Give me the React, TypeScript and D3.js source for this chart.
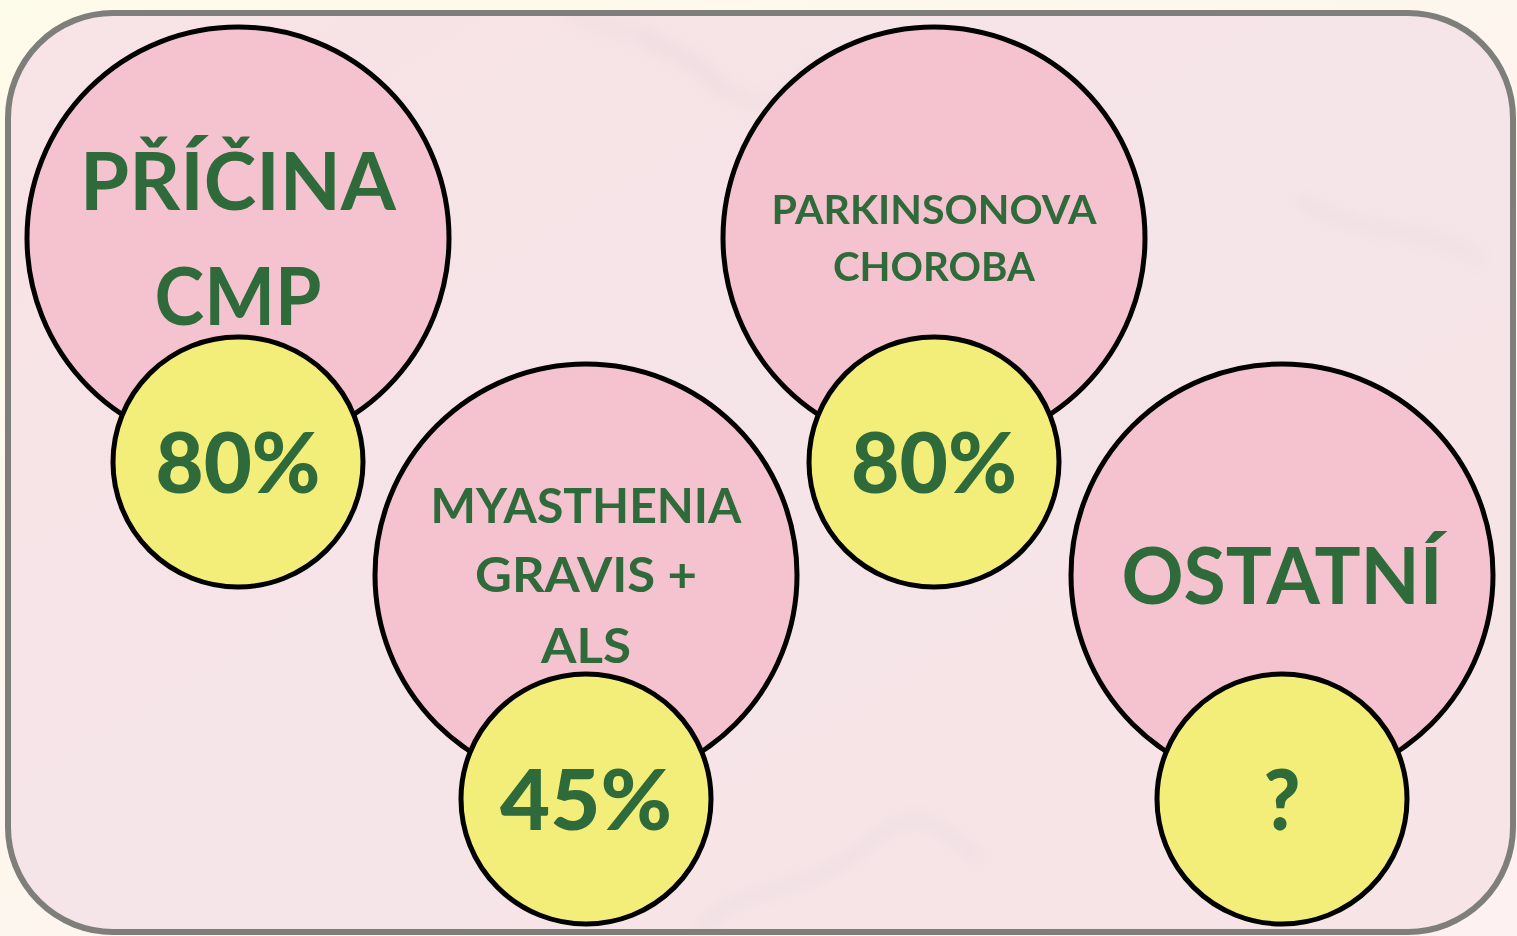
import React from 'react';
import * as d3 from 'd3';

// chart content
const categories = ['PŘÍČINA CMP', 'MYASTHENIA GRAVIS + ALS', 'PARKINSONOVA CHOROBA', 'OSTATNÍ'];
const labelLines = [['PŘÍČINA', 'CMP'], ['MYASTHENIA', 'GRAVIS +', 'ALS'], ['PARKINSONOVA', 'CHOROBA'], ['OSTATNÍ']];
const values = ['80%', '45%', '80%', '?'];
const rows = ['top', 'bottom', 'top', 'bottom'];

// layout per bubble (font size, baseline offsets from centre, fitted widths)
const labelFont = [80, 48, 40, 78];
const labelOffsets = [[-28, 87], [-52, 17, 88], [-14, 43], [29]];
const labelWidths = [[316, 167], [311, 222, 90], [325, 202], [321]];
const valueWidths = [165, 172, 166, 37];

const W = 1517;
const H = 936;
const GREEN = '#2f6a3a';

const App = () => {
  const x = d3.scalePoint<string>().domain(categories).range([238, 1282]);
  const y = d3.scaleOrdinal<string, number>().domain(['top', 'bottom']).range([238, 575]);
  const bigR = 211;
  const smallR = 125;
  const smallDy = 224;

  const frame = d3.path();
  const r = 105, x0 = 8, y0 = 13, x1 = 1513, y1 = 932;
  frame.moveTo(x0 + r, y0);
  frame.lineTo(x1 - r, y0);
  frame.arcTo(x1, y0, x1, y0 + r, r);
  frame.lineTo(x1, y1 - r);
  frame.arcTo(x1, y1, x1 - r, y1, r);
  frame.lineTo(x0 + r, y1);
  frame.arcTo(x0, y1, x0, y1 - r, r);
  frame.lineTo(x0, y0 + r);
  frame.arcTo(x0, y0, x0 + r, y0, r);
  frame.closePath();

  // faint marble veins
  const veins = [
    'M560,0 C600,40 640,20 700,70 S780,110 820,60',
    'M640,30 C660,60 700,50 720,90',
    'M700,930 C740,880 800,900 860,850 S930,820 980,860',
    'M1300,200 C1360,240 1420,220 1480,260',
  ];

  return (
    <div style={{ position: 'fixed', left: 0, top: 0, width: W, height: H }}>
      <svg width={W} height={H} style={{ display: 'block' }}>
        <defs>
          <linearGradient id="outer" x1="0" y1="0" x2="1" y2="1">
            <stop offset="0" stopColor="#fdfbea" />
            <stop offset="1" stopColor="#fdf1f2" />
          </linearGradient>
          <linearGradient id="inner" x1="0" y1="0" x2="1" y2="1">
            <stop offset="0" stopColor="#f8e3e5" />
            <stop offset="0.5" stopColor="#f5e4e8" />
            <stop offset="1" stopColor="#f8e4e6" />
          </linearGradient>
          <filter id="blur" x="-20%" y="-20%" width="140%" height="140%">
            <feGaussianBlur stdDeviation="7" />
          </filter>
          <clipPath id="frameClip">
            <path d={frame.toString()} />
          </clipPath>
        </defs>
        <rect width={W} height={H} fill="url(#outer)" />
        <path d={frame.toString()} fill="url(#inner)" />
        <g clipPath="url(#frameClip)" filter="url(#blur)">
          {veins.map((d, i) => (
            <path key={i} d={d} fill="none" stroke="#c9bcbf" strokeWidth={5} opacity={0.22} />
          ))}
        </g>
        <path d={frame.toString()} fill="none" stroke="#7e7e7a" strokeWidth={6} />

        {categories.map((c, i) => {
          const cx = x(c)!;
          const cy = y(rows[i]);
          return (
            <g key={c}>
              <circle cx={cx} cy={cy} r={bigR} fill="#f5c3cf" stroke="#000" strokeWidth={5} />
              {labelLines[i].map((line, j) => (
                <text
                  key={j}
                  x={cx}
                  y={cy + labelOffsets[i][j]}
                  textAnchor="middle"
                  fontFamily="Lato, 'Open Sans', sans-serif"
                  fontWeight={700}
                  fontSize={labelFont[i]}
                  fill={GREEN}
                  textLength={labelWidths[i][j]}
                  lengthAdjust="spacingAndGlyphs"
                >
                  {line}
                </text>
              ))}
              <circle cx={cx} cy={cy + smallDy} r={smallR} fill="#f3ee7a" stroke="#000" strokeWidth={5} />
              <text
                x={cx}
                y={cy + smallDy + 31}
                textAnchor="middle"
                fontFamily="Lato, 'Open Sans', sans-serif"
                fontWeight={900}
                fontSize={84}
                fill={GREEN}
                textLength={valueWidths[i]}
                lengthAdjust="spacingAndGlyphs"
              >
                {values[i]}
              </text>
            </g>
          );
        })}
      </svg>
    </div>
  );
};

export default App;
